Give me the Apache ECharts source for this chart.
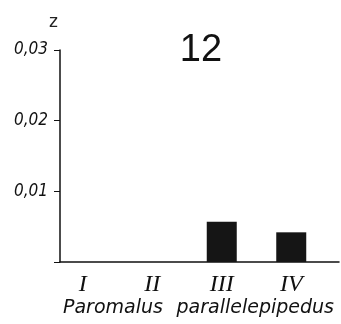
<!DOCTYPE html>
<html><head><meta charset="utf-8">
<script src="https://cdn.jsdelivr.net/npm/echarts@6/dist/echarts.min.js"></script>
<style>html,body{margin:0;padding:0;background:#fff}#c{width:341px;height:324px}</style>
</head><body><div id="c"></div>
<script>
var categories = ['I', 'II', 'III', 'IV'];
var values = [0, 0, 0.0057, 0.0042];
var yTicks = [0, 0.01, 0.02, 0.03];
var panelTitle = '12';
var genusName = 'Paromalus';
var speciesName = 'parallelepipedus';
var yName = 'z';

var chart = echarts.init(document.getElementById('c'));
var yMin = yTicks[0], yMax = yTicks[yTicks.length - 1], yStep = yTicks[1] - yTicks[0];
var nameStyle = {fontFamily: 'DejaVu Sans', fontStyle: 'italic', fontSize: 19, fontWeight: 'normal', color: '#111'};
chart.setOption({
  animation: false,
  backgroundColor: '#fff',
  title: [
    {text: panelTitle, left: 196, top: 27, textAlign: 'center',
     textStyle: {fontFamily: 'Liberation Sans', fontSize: 38, fontWeight: 'normal', color: '#111'}},
    {text: yName, left: 44, top: 9,
     textStyle: {fontFamily: 'DejaVu Sans', fontSize: 17, fontWeight: 'normal', color: '#222'}},
    {text: genusName, left: 58, top: 294, textStyle: nameStyle},
    {text: speciesName, right: 2, top: 294, textStyle: nameStyle}
  ],
  grid: [
    {left: 48, width: 278, top: 50, bottom: 62},
    {left: 60, right: 2, top: 50, bottom: 62}
  ],
  xAxis: [
    {type: 'category', gridIndex: 0, data: categories,
     axisLine: {show: false}, axisTick: {show: false},
     axisLabel: {margin: 11, fontFamily: 'Liberation Serif', fontStyle: 'italic', fontSize: 24, color: '#111'}},
    {type: 'category', gridIndex: 1, data: categories,
     axisLine: {lineStyle: {color: '#111', width: 1.5}},
     axisTick: {inside: true, length: 7, lineStyle: {color: '#111', width: 1.5}},
     axisLabel: {show: false}}
  ],
  yAxis: [
    {type: 'value', gridIndex: 0, min: yMin, max: yMax, interval: yStep, show: false},
    {type: 'value', gridIndex: 1, min: yMin, max: yMax, interval: yStep,
     splitLine: {show: false},
     axisLine: {show: true, lineStyle: {color: '#111', width: 1.5}},
     axisTick: {show: true, length: 6, lineStyle: {color: '#111', width: 1}},
     axisLabel: {margin: 12, fontFamily: 'DejaVu Sans Condensed', fontStyle: 'italic', fontSize: 17, color: '#111',
       formatter: function (v) { return v === 0 ? '' : v.toFixed(2).replace('.', ','); }}}
  ],
  series: [
    {type: 'bar', xAxisIndex: 0, yAxisIndex: 0, data: values, barWidth: 30,
     itemStyle: {color: '#151515'}}
  ]
});
</script></body></html>
